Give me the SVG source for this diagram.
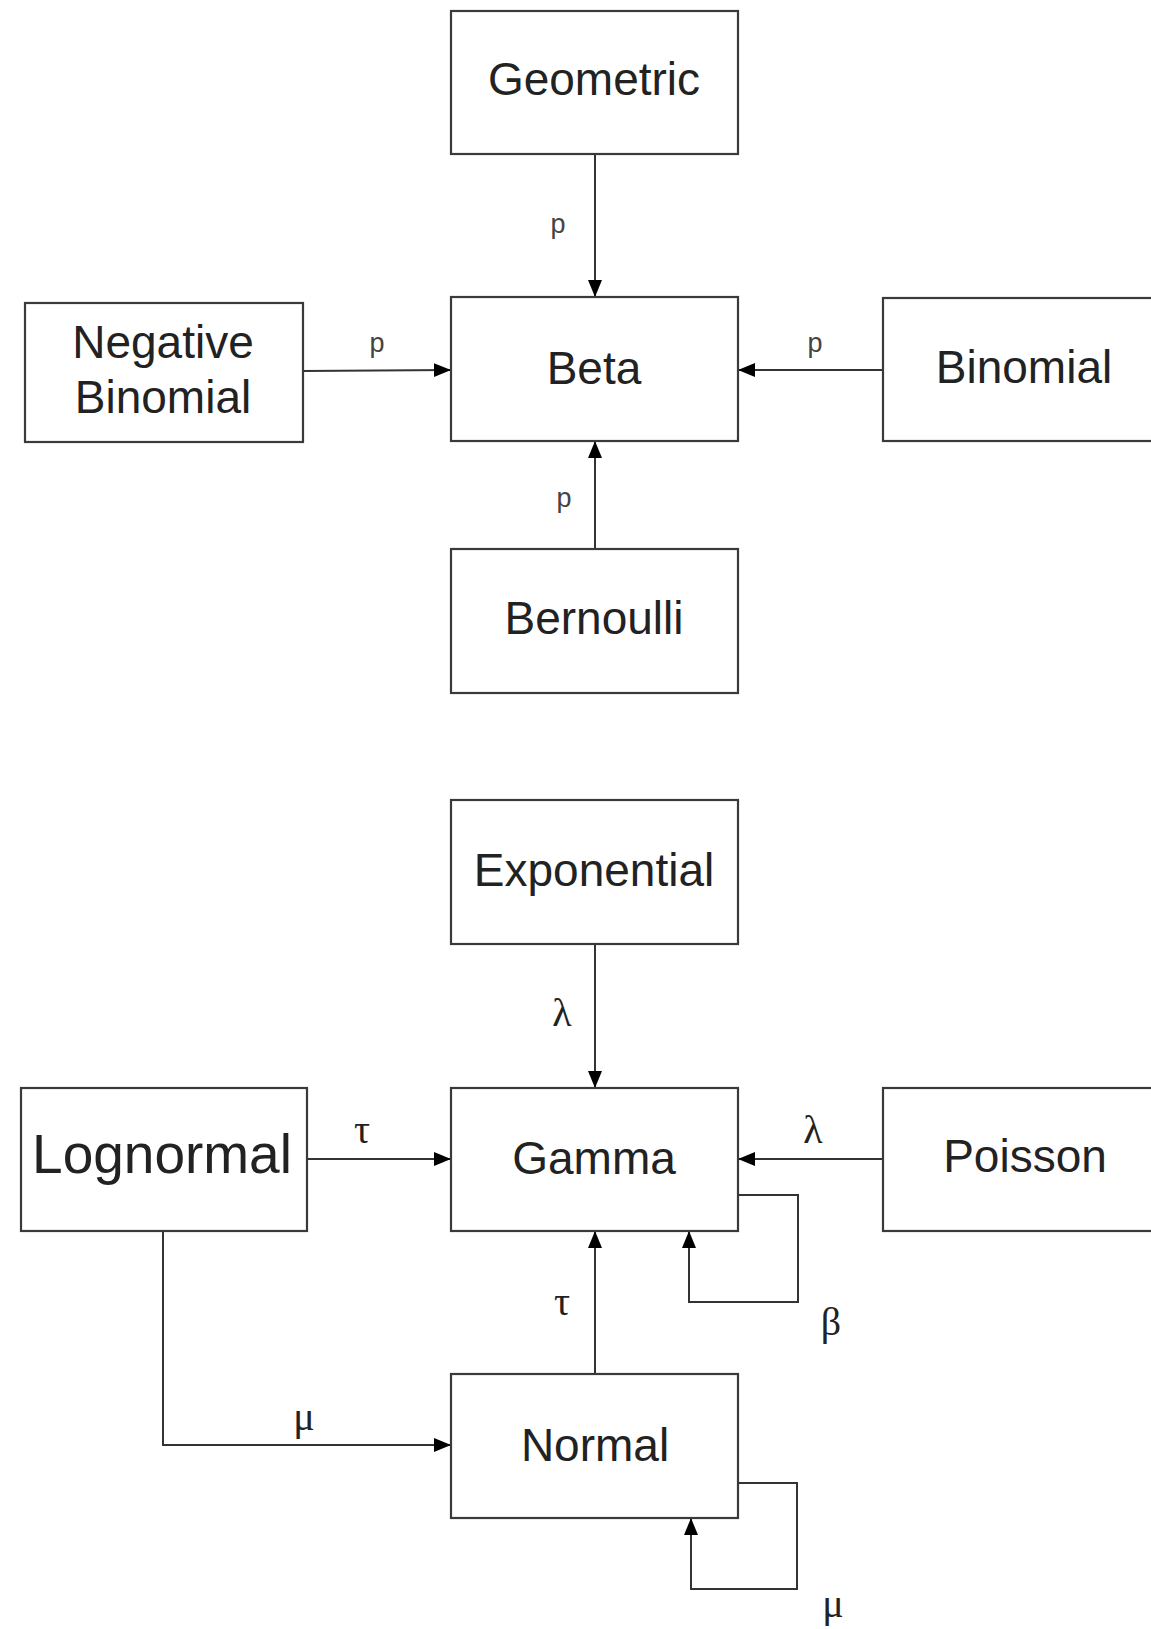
<svg xmlns="http://www.w3.org/2000/svg" width="1151" height="1629" viewBox="0 0 1151 1629">
<style>
.box{fill:#fff;stroke:#3a3a3a;stroke-width:2.2}
.lbl{font-family:"Liberation Sans",Arial,sans-serif;font-size:46px;fill:#222;text-anchor:middle}
.big{font-size:55px}
.p{font-family:"Liberation Sans",Arial,sans-serif;font-size:27px;fill:#444;text-anchor:middle}
.g{font-family:"Liberation Serif","Times New Roman",serif;font-size:40px;fill:#222;text-anchor:middle}
.c{fill:none;stroke:#333;stroke-width:2}
</style>
<defs>
<marker id="ah" markerUnits="userSpaceOnUse" markerWidth="18" markerHeight="16" refX="17" refY="7" orient="auto">
<path d="M0,0 L17,7 L0,14 z" fill="#000"/>
</marker>
</defs>
<g id="connectors">
<line class="c" x1="595" y1="154" x2="595" y2="297" marker-end="url(#ah)"/>
<line class="c" x1="303" y1="371" x2="451" y2="370" marker-end="url(#ah)"/>
<line class="c" x1="883" y1="370" x2="738" y2="370" marker-end="url(#ah)"/>
<line class="c" x1="595" y1="549" x2="595" y2="441" marker-end="url(#ah)"/>
<line class="c" x1="595" y1="944" x2="595" y2="1088" marker-end="url(#ah)"/>
<line class="c" x1="307" y1="1159" x2="451" y2="1159" marker-end="url(#ah)"/>
<line class="c" x1="883" y1="1159" x2="738" y2="1159" marker-end="url(#ah)"/>
<line class="c" x1="595" y1="1374" x2="595" y2="1231" marker-end="url(#ah)"/>
<path class="c" d="M738,1195 H798 V1302 H689 V1231" marker-end="url(#ah)"/>
<path class="c" d="M163,1231 V1445 H451" marker-end="url(#ah)"/>
<path class="c" d="M738,1483 H797 V1589 H691 V1518" marker-end="url(#ah)"/>
<text class="p" x="558" y="233">p</text>
<text class="p" x="377" y="352">p</text>
<text class="p" x="815" y="352">p</text>
<text class="p" x="564" y="507">p</text>
<text class="g" x="562" y="1026">λ</text>
<text class="g" x="362" y="1143">τ</text>
<text class="g" x="813" y="1143">λ</text>
<text class="g" x="562" y="1315">τ</text>
<text class="g" x="831" y="1335">β</text>
<text class="g" x="304" y="1430">μ</text>
<text class="g" x="833" y="1617">μ</text>
</g>
<g id="geometric"><rect class="box" x="451" y="11" width="287" height="143"/><text class="lbl" x="594" y="95">Geometric</text></g>
<g id="negative-binomial"><rect class="box" x="25" y="303" width="278" height="139"/><text class="lbl" x="163" y="358">Negative</text><text class="lbl" x="163" y="413">Binomial</text></g>
<g id="beta"><rect class="box" x="451" y="297" width="287" height="144"/><text class="lbl" x="594" y="384">Beta</text></g>
<g id="binomial"><rect class="box" x="883" y="298" width="290" height="143"/><text class="lbl" x="1024" y="383">Binomial</text></g>
<g id="bernoulli"><rect class="box" x="451" y="549" width="287" height="144"/><text class="lbl" x="594" y="634">Bernoulli</text></g>
<g id="exponential"><rect class="box" x="451" y="800" width="287" height="144"/><text class="lbl" x="594" y="886">Exponential</text></g>
<g id="lognormal"><rect class="box" x="21" y="1088" width="286" height="143"/><text class="lbl big" x="162" y="1173">Lognormal</text></g>
<g id="gamma"><rect class="box" x="451" y="1088" width="287" height="143"/><text class="lbl" x="594" y="1174">Gamma</text></g>
<g id="poisson"><rect class="box" x="883" y="1088" width="290" height="143"/><text class="lbl" x="1025" y="1172">Poisson</text></g>
<g id="normal"><rect class="box" x="451" y="1374" width="287" height="144"/><text class="lbl" x="595" y="1461">Normal</text></g>
</svg>
